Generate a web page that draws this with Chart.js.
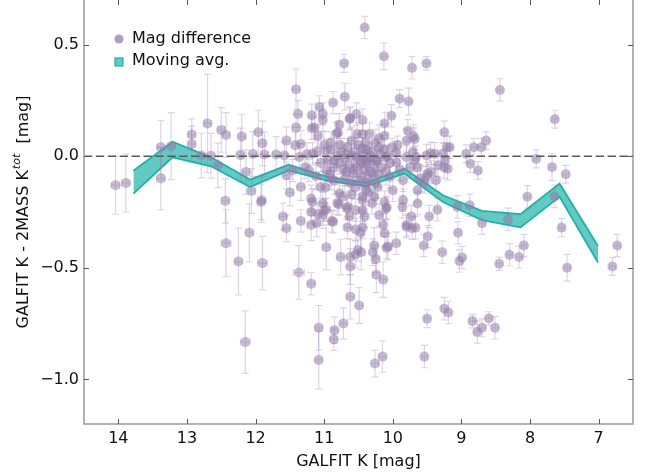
<!DOCTYPE html>
<html>
<head>
<meta charset="utf-8">
<script src="https://cdn.jsdelivr.net/npm/chart.js@4.4.0/dist/chart.umd.min.js"></script>
<style>
html,body{margin:0;padding:0;background:#fff;}
#wrap{width:649px;height:475px;}
</style>
</head>
<body>
<div id="wrap"><canvas id="cv" width="649" height="475"></canvas></div>
<script>
// GALFIT K magnitude of each galaxy
const galfitK = [
  14.04,13.89,13.38,13.23,13.38,12.93,12.93,12.70,12.79,12.65,
  12.50,12.43,12.55,12.44,12.20,12.22,12.14,12.06,11.96,11.90,
  11.91,12.04,11.87,11.70,12.43,12.25,12.09,11.90,12.15,11.92,
  11.60,11.55,11.55,11.50,11.41,11.38,11.41,11.34,11.42,11.34,
  11.19,11.11,11.02,10.97,10.87,11.17,11.37,11.19,10.97,10.76,
  11.08,11.08,10.85,10.86,10.72,10.62,10.49,10.62,10.62,10.24,
  10.14,10.26,10.15,10.07,9.95,10.29,10.27,10.46,10.47,10.25,
  10.09,10.12,10.09,9.86,9.64,9.80,9.72,9.73,9.49,9.55,
  9.47,9.35,9.28,9.05,8.99,9.03,9.06,8.88,8.70,8.32,
  8.09,8.16,8.30,8.45,8.04,7.64,7.54,7.46,6.80,6.73,
  7.91,7.68,7.48,7.64,8.44,9.25,9.19,9.50,9.54,8.84,
  8.77,8.70,8.60,8.51,10.41,10.71,10.13,9.72,9.51,9.90,
  9.77,10.70,10.87,11.07,11.02,11.18,11.18,11.02,10.53,10.44,
  10.62,10.02,10.12,10.78,10.80,11.14,11.09,10.34,10.44,10.12,
  9.78,9.68,9.25,9.17,8.93,8.82,8.71,8.64,8.87,8.76,
  9.49,9.51,9.39,9.27,9.25,9.66,9.64,10.63,10.82,11.34,
  11.58,11.36,11.17,10.97,10.85,10.68,10.53,10.44,10.39,11.55,
  11.19,11.05,11.02,10.90,10.78,10.66,10.54,10.44,10.39,11.19,
  11.00,10.73,10.97,11.22,11.46,9.80,10.20,9.95,9.71,9.45,
  9.21,10.39,10.24,10.10,9.95,9.80,9.68,9.44,9.34,9.24,
  9.20,10.29,10.05,9.85,9.51,10.39,10.22,10.00,9.64,9.54,
  9.37,10.44,10.27,10.12,9.85,10.44,10.14,10.79,10.89,10.81,
  10.67,10.63,10.66,10.54,10.44,10.41,10.30,10.20,10.10,9.80,
  10.51,11.09,10.54,9.67,10.95,10.90,10.86,10.82,10.78,10.75,
  10.72,10.70,10.66,10.64,10.60,10.58,10.56,10.52,10.50,10.48,
  10.46,10.43,10.41,10.38,10.36,10.33,10.31,10.28,10.26,10.23,
  10.21,10.18,10.16,10.13,10.10,10.07,10.04,10.01,10.62,10.70,
  10.55,10.48,10.35,10.25,10.85,10.92,11.05,11.10,11.12,11.25,
  11.28,10.60,10.40,10.20,10.90,11.00,10.98,10.35,10.60,9.90,
  9.93,9.75,9.70,9.60,10.57,10.45,10.32,10.68,10.77,10.52
];
// GALFIT K - 2MASS Ktot
const magDiff = [
  -0.13,-0.12,0.04,0.045,-0.10,0.097,0.055,0.147,0.003,0.002,
  0.118,0.095,-0.041,-0.20,0.088,0.006,-0.071,-0.156,0.107,0.058,
  -0.197,0.01,0.008,0.008,-0.39,-0.472,-0.343,-0.479,-0.833,-0.205,
  -0.27,-0.323,0.07,-0.163,0.30,0.189,0.129,-0.138,0.048,-0.29,
  -0.308,-0.30,-0.264,-0.239,-0.294,-0.205,-0.521,-0.571,-0.408,-0.452,
  -0.769,-0.913,-0.78,-0.82,-0.75,-0.63,-0.669,-0.452,-0.494,-0.531,
  -0.553,-0.929,-0.898,-0.405,-0.39,-0.43,-0.40,-0.43,-0.343,-0.461,
  -0.41,-0.345,-0.23,-0.227,-0.212,-0.316,-0.323,-0.27,-0.36,-0.40,
  -0.27,-0.24,-0.43,-0.343,-0.454,-0.47,-0.227,-0.22,-0.30,-0.283,
  -0.40,-0.452,-0.442,-0.482,-0.182,-0.18,-0.32,-0.50,-0.494,-0.40,
  -0.012,-0.049,-0.081,0.166,0.297,-0.683,-0.70,-0.728,-0.898,-0.739,
  -0.788,-0.769,-0.727,-0.769,0.577,0.416,0.448,0.396,0.416,0.258,
  0.245,0.267,0.24,0.221,0.189,0.184,0.125,0.162,0.189,0.162,
  0.171,0.181,0.147,0.141,0.107,0.129,0.092,0.10,0.10,0.092,
  0.114,0.077,0.107,0.04,0.011,0.04,0.04,0.07,-0.034,-0.064,
  -0.078,0.003,0.011,0.011,-0.049,-0.004,-0.049,0.167,0.10,0.055,
  0.003,-0.004,0.011,0.025,-0.019,0.011,-0.004,0.033,-0.034,-0.086,
  -0.19,-0.138,-0.212,-0.10,-0.167,-0.227,-0.242,-0.197,-0.153,-0.25,
  -0.242,-0.182,-0.064,-0.064,-0.064,0.07,0.04,0.018,0.018,0.013,
  0.04,-0.019,-0.019,-0.004,-0.027,-0.004,-0.019,-0.071,-0.041,-0.019,
  -0.056,-0.078,-0.093,-0.108,-0.093,-0.123,-0.138,-0.153,-0.153,-0.116,
  -0.108,-0.182,-0.182,-0.205,-0.197,-0.242,-0.308,-0.215,-0.29,-0.21,
  -0.234,-0.27,-0.319,-0.328,-0.319,-0.27,-0.21,-0.264,-0.234,-0.308,
  -0.42,-0.26,-0.44,-0.32,-0.02,0.03,-0.05,0.00,-0.03,0.02,
  -0.06,-0.01,0.04,-0.04,0.00,-0.08,0.02,-0.05,0.05,-0.02,
  -0.09,0.01,-0.06,0.03,-0.01,-0.07,0.02,-0.04,0.06,-0.02,
  -0.08,0.01,-0.05,0.03,-0.07,0.00,-0.03,0.04,-0.12,-0.10,
  -0.14,-0.11,-0.10,-0.12,-0.11,-0.08,-0.03,0.02,-0.09,0.01,
  -0.05,0.07,0.06,0.08,0.06,0.05,-0.14,-0.16,-0.17,-0.06,
  0.05,-0.05,0.09,-0.10,-0.06,-0.03,0.00,-0.07,0.05,0.10
];
// error on the difference
const magDiffErr = [
  0.13,0.13,0.12,0.15,0.14,0.07,0.08,0.22,0.10,0.10,
  0.10,0.10,0.10,0.10,0.10,0.12,0.10,0.10,0.10,0.10,
  0.10,0.10,0.10,0.08,0.15,0.15,0.13,0.12,0.14,0.08,
  0.06,0.06,0.06,0.06,0.09,0.06,0.06,0.06,0.06,0.05,
  0.07,0.06,0.06,0.05,0.05,0.06,0.12,0.05,0.10,0.08,
  0.10,0.13,0.06,0.05,0.07,0.10,0.08,0.08,0.08,0.08,
  0.08,0.06,0.07,0.06,0.05,0.06,0.08,0.08,0.10,0.06,
  0.05,0.06,0.05,0.05,0.05,0.05,0.05,0.05,0.05,0.05,
  0.05,0.05,0.05,0.05,0.05,0.05,0.05,0.05,0.05,0.05,
  0.05,0.05,0.05,0.03,0.05,0.05,0.04,0.06,0.04,0.05,
  0.04,0.06,0.04,0.04,0.05,0.05,0.05,0.04,0.05,0.03,
  0.05,0.04,0.03,0.05,0.05,0.04,0.06,0.05,0.03,0.04,
  0.06,0.06,0.05,0.05,0.05,0.05,0.05,0.05,0.05,0.05,
  0.05,0.05,0.05,0.05,0.05,0.05,0.05,0.05,0.05,0.05,
  0.05,0.05,0.05,0.05,0.04,0.04,0.04,0.04,0.04,0.04,
  0.05,0.05,0.05,0.05,0.05,0.05,0.05,0.05,0.05,0.06,
  0.06,0.06,0.05,0.05,0.05,0.05,0.05,0.05,0.05,0.06,
  0.06,0.05,0.05,0.05,0.05,0.05,0.05,0.05,0.05,0.05,
  0.05,0.05,0.05,0.05,0.05,0.05,0.05,0.05,0.05,0.05,
  0.05,0.05,0.05,0.05,0.05,0.05,0.05,0.05,0.05,0.05,
  0.05,0.05,0.05,0.05,0.05,0.05,0.05,0.05,0.05,0.05,
  0.05,0.05,0.05,0.05,0.05,0.05,0.05,0.05,0.05,0.05,
  0.05,0.05,0.05,0.05,0.05,0.05,0.05,0.05,0.05,0.05,
  0.05,0.05,0.06,0.05,0.06,0.05,0.05,0.04,0.05,0.06,
  0.05,0.06,0.04,0.05,0.07,0.05,0.06,0.04,0.05,0.06,
  0.05,0.04,0.06,0.05,0.05,0.07,0.04,0.05,0.06,0.05,
  0.06,0.05,0.04,0.05,0.06,0.05,0.05,0.04,0.07,0.06,
  0.05,0.06,0.05,0.07,0.06,0.05,0.04,0.05,0.06,0.05,
  0.05,0.06,0.05,0.06,0.05,0.06,0.07,0.06,0.05,0.05,
  0.04,0.05,0.05,0.06,0.05,0.05,0.04,0.06,0.05,0.05
];
// error on GALFIT K
const galfitKErr = [
  0.06,0.06,0.05,0.05,0.06,0.05,0.05,0.05,0.05,0.05,
  0.05,0.05,0.05,0.05,0.05,0.05,0.05,0.05,0.05,0.05,
  0.05,0.05,0.05,0.05,0.07,0.05,0.05,0.07,0.07,0.05,
  0.05,0.05,0.05,0.05,0.05,0.05,0.05,0.05,0.05,0.05,
  0.05,0.05,0.05,0.05,0.05,0.05,0.08,0.05,0.05,0.05,
  0.05,0.05,0.05,0.05,0.05,0.05,0.05,0.05,0.05,0.05,
  0.05,0.05,0.05,0.05,0.05,0.05,0.05,0.05,0.05,0.05,
  0.05,0.05,0.04,0.04,0.04,0.04,0.04,0.04,0.04,0.04,
  0.04,0.04,0.04,0.04,0.04,0.04,0.04,0.04,0.04,0.04,
  0.04,0.04,0.04,0.04,0.04,0.04,0.04,0.04,0.04,0.04,
  0.04,0.04,0.04,0.04,0.04,0.04,0.04,0.04,0.04,0.04,
  0.04,0.04,0.04,0.04,0.04,0.04,0.04,0.04,0.04,0.04,
  0.04,0.04,0.04,0.04,0.04,0.04,0.04,0.04,0.04,0.04,
  0.04,0.04,0.04,0.04,0.04,0.04,0.04,0.04,0.04,0.04,
  0.04,0.04,0.04,0.04,0.04,0.04,0.04,0.04,0.04,0.04,
  0.04,0.04,0.04,0.04,0.04,0.04,0.04,0.04,0.04,0.04,
  0.04,0.04,0.04,0.04,0.04,0.04,0.04,0.04,0.04,0.04,
  0.04,0.04,0.04,0.04,0.04,0.04,0.04,0.04,0.04,0.04,
  0.04,0.04,0.04,0.04,0.04,0.04,0.04,0.04,0.04,0.04,
  0.04,0.04,0.04,0.04,0.04,0.04,0.04,0.04,0.04,0.04,
  0.04,0.04,0.04,0.04,0.04,0.04,0.04,0.04,0.04,0.04,
  0.04,0.04,0.04,0.04,0.04,0.04,0.04,0.04,0.04,0.04,
  0.04,0.04,0.04,0.04,0.04,0.04,0.04,0.04,0.04,0.04,
  0.04,0.04,0.04,0.04,0.04,0.04,0.04,0.04,0.04,0.04,
  0.04,0.04,0.04,0.04,0.04,0.04,0.04,0.04,0.04,0.04,
  0.04,0.04,0.04,0.04,0.04,0.04,0.04,0.04,0.04,0.04,
  0.04,0.04,0.04,0.04,0.04,0.04,0.04,0.04,0.04,0.04,
  0.04,0.04,0.04,0.04,0.04,0.04,0.04,0.04,0.04,0.04,
  0.04,0.04,0.04,0.04,0.04,0.04,0.04,0.04,0.04,0.04,
  0.04,0.04,0.04,0.04,0.04,0.04,0.04,0.04,0.04,0.04
];

// moving average band
const movingK    = [13.78,13.21,12.65,12.08,11.52,10.95,10.39,9.83,9.27,8.70,8.14,7.57,7.01];
const movingHigh = [-0.065,0.065,-0.005,-0.105,-0.038,-0.093,-0.118,-0.056,-0.175,-0.245,-0.26,-0.123,-0.402];
const movingLow  = [-0.168,-0.005,-0.045,-0.138,-0.064,-0.11,-0.135,-0.078,-0.205,-0.286,-0.319,-0.182,-0.476];

const xTicks = [14,13,12,11,10,9,8,7];
const yTicks = [-1.0,-0.5,0.0,0.5];

const FONT = '"DejaVu Sans", sans-serif';
const PURPLE = 'rgba(148,124,170,0.5)';
const PURPLE_ERR = 'rgba(148,124,170,0.32)';
const TEAL = 'rgb(32,178,170)';
const TEAL_FILL = 'rgba(32,178,170,0.7)';

const scatterData = galfitK.map((k, i) => ({x: k, y: magDiff[i]}));

//error bars drawn under the markers
const errorBars = {
  id: 'errorBars',
  beforeDatasetDraw(chart, args) {
    if (args.index !== 1) return;
    const {ctx, chartArea, scales: {x, y}} = chart;
    ctx.save();
    ctx.beginPath();
    ctx.rect(chartArea.left, chartArea.top, chartArea.right - chartArea.left, chartArea.bottom - chartArea.top);
    ctx.clip();
    ctx.strokeStyle = PURPLE_ERR;
    ctx.lineWidth = 1.2;
    const cap = 3.5;
    for (let i = 0; i < galfitK.length; i++) {
      const px = x.getPixelForValue(galfitK[i]);
      const py = y.getPixelForValue(magDiff[i]);
      const y1 = y.getPixelForValue(magDiff[i] - magDiffErr[i]);
      const y2 = y.getPixelForValue(magDiff[i] + magDiffErr[i]);
      const x1 = x.getPixelForValue(galfitK[i] - galfitKErr[i]);
      const x2 = x.getPixelForValue(galfitK[i] + galfitKErr[i]);
      ctx.beginPath();
      ctx.moveTo(px, y1); ctx.lineTo(px, y2);
      ctx.moveTo(px - cap, y1); ctx.lineTo(px + cap, y1);
      ctx.moveTo(px - cap, y2); ctx.lineTo(px + cap, y2);
      ctx.moveTo(x1, py); ctx.lineTo(x2, py);
      ctx.moveTo(x1, py - cap); ctx.lineTo(x1, py + cap);
      ctx.moveTo(x2, py - cap); ctx.lineTo(x2, py + cap);
      ctx.stroke();
    }
    ctx.restore();
  }
};

//rahmen, ticks nach innen, legende, y-titel
const frame = {
  id: 'frame',
  afterDraw(chart) {
    const {ctx, chartArea: a, scales: {x, y}} = chart;
    ctx.save();
    ctx.strokeStyle = '#9a9a9a';
    ctx.lineWidth = 1.5;
    ctx.beginPath();
    ctx.moveTo(a.left, a.top); ctx.lineTo(a.left, a.bottom);
    ctx.lineTo(a.right, a.bottom); ctx.lineTo(a.right, a.top);
    ctx.stroke();
    ctx.strokeStyle = '#555';
    ctx.lineWidth = 1;
    ctx.beginPath();
    for (const v of xTicks) {
      const px = Math.round(x.getPixelForValue(v)) + 0.5;
      ctx.moveTo(px, a.bottom); ctx.lineTo(px, a.bottom - 5);
      ctx.moveTo(px, a.top); ctx.lineTo(px, a.top + 5);
    }
    for (const v of yTicks) {
      const py = Math.round(y.getPixelForValue(v)) + 0.5;
      ctx.moveTo(a.left, py); ctx.lineTo(a.left + 5, py);
      ctx.moveTo(a.right, py); ctx.lineTo(a.right - 5, py);
    }
    ctx.stroke();

    // legend
    ctx.fillStyle = 'rgba(148,124,170,0.75)';
    ctx.beginPath();
    ctx.arc(119, 39, 4.5, 0, Math.PI * 2);
    ctx.fill();
    ctx.fillStyle = TEAL_FILL;
    ctx.strokeStyle = TEAL;
    ctx.lineWidth = 1.2;
    ctx.fillRect(115, 58, 8, 8);
    ctx.strokeRect(115, 58, 8, 8);
    ctx.fillStyle = '#111';
    ctx.font = '16px ' + FONT;
    ctx.textBaseline = 'middle';
    ctx.textAlign = 'left';
    ctx.fillText('Mag difference', 132, 39);
    ctx.fillText('Moving avg.', 132, 61);

    // y axis title with superscript
    ctx.save();
    ctx.translate(24, (a.top + a.bottom) / 2);
    ctx.rotate(-Math.PI / 2);
    const main = 'GALFIT K - 2MASS K';
    const sup = 'tot';
    const tail = '  [mag]';
    ctx.font = '16px ' + FONT;
    const w1 = ctx.measureText(main).width;
    const w3 = ctx.measureText(tail).width;
    ctx.font = 'italic 11px ' + FONT;
    const w2 = ctx.measureText(sup).width + 1;
    let tx = -(w1 + w2 + w3) / 2;
    ctx.fillStyle = '#111';
    ctx.font = '16px ' + FONT;
    ctx.fillText(main, tx, 0); tx += w1;
    ctx.font = 'italic 11px ' + FONT;
    ctx.fillText(sup, tx + 1, -7); tx += w2;
    ctx.font = '16px ' + FONT;
    ctx.fillText(tail, tx, 0);
    ctx.restore();
    ctx.restore();
  }
};

const ctx = document.getElementById('cv').getContext('2d');
new Chart(ctx, {
  type: 'scatter',
  data: {
    datasets: [
      {
        type: 'line',
        label: 'zero',
        data: [{x: 14.5, y: 0}, {x: 6.5, y: 0}],
        borderColor: '#5a5a5a',
        borderWidth: 1.5,
        borderDash: [8.3, 3.6],
        pointRadius: 0,
        order: 0
      },
      {
        label: 'Mag difference',
        data: scatterData,
        backgroundColor: PURPLE,
        borderWidth: 0,
        pointRadius: 5,
        order: 1
      },
      {
        type: 'line',
        label: 'Moving avg.',
        data: movingK.map((k, i) => ({x: k, y: movingHigh[i]})),
        borderColor: TEAL,
        borderWidth: 1.8,
        backgroundColor: TEAL_FILL,
        fill: '+1',
        pointRadius: 0,
        tension: 0,
        order: 2
      },
      {
        type: 'line',
        label: 'low',
        data: movingK.map((k, i) => ({x: k, y: movingLow[i]})),
        borderColor: TEAL,
        borderWidth: 1.8,
        fill: false,
        pointRadius: 0,
        tension: 0,
        order: 3
      }
    ]
  },
  options: {
    responsive: false,
    animation: false,
    layout: {autoPadding: false, padding: {left: 0, right: 16, top: 0, bottom: 0}},
    plugins: {legend: {display: false}, tooltip: {enabled: false}},
    scales: {
      x: {
        type: 'linear',
        reverse: true,
        min: 6.5,
        max: 14.5,
        grid: {display: false, drawTicks: false},
        border: {display: false},
        afterBuildTicks: s => { s.ticks = xTicks.map(v => ({value: v})); },
        afterFit: s => { s.height = 51; s.paddingLeft = 0; s.paddingRight = 0; },
        ticks: {color: '#111', font: {family: FONT, size: 16}, padding: 5, maxRotation: 0, autoSkip: false,
                callback: v => String(v)},
        title: {display: true, text: 'GALFIT K [mag]', color: '#111', font: {family: FONT, size: 16},
                padding: {top: 0, bottom: 4}}
      },
      y: {
        type: 'linear',
        min: -1.2,
        max: 0.7,
        grid: {display: false, drawTicks: false},
        border: {display: false},
        afterBuildTicks: s => { s.ticks = yTicks.map(v => ({value: v})); },
        afterFit: s => { s.width = 84; s.paddingTop = 0; s.paddingBottom = 0; },
        ticks: {color: '#111', font: {family: FONT, size: 16}, padding: 5,
                callback: v => (v < 0 ? '\u2212' : '') + Math.abs(v).toFixed(1)}
      }
    }
  },
  plugins: [errorBars, frame]
});
</script>
</body>
</html>
